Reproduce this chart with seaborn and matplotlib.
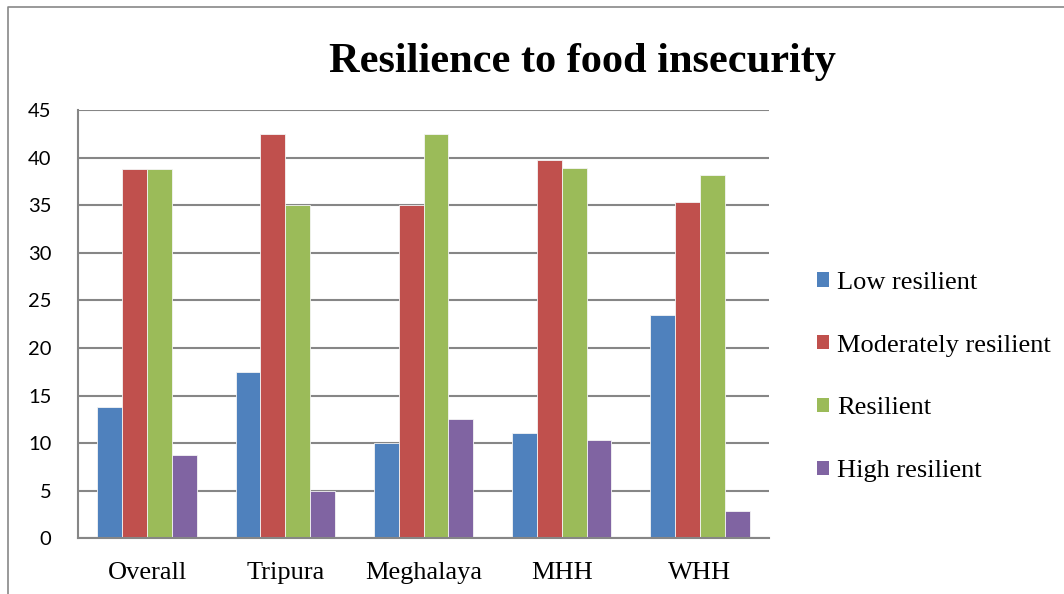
import matplotlib
matplotlib.use("Agg")
import matplotlib.pyplot as plt
from matplotlib.lines import Line2D
import seaborn as sns
import pandas as pd

# Share of households in each resilience class (%)
categories = ["Overall", "Tripura", "Meghalaya", "MHH", "WHH"]
classes = ["Low resilient", "Moderately resilient", "Resilient", "High resilient"]
low_resilient = [13.75, 17.5, 10.0, 11.1, 23.5]
moderately_resilient = [38.75, 42.5, 35.0, 39.7, 35.3]
resilient = [38.75, 35.0, 42.5, 38.9, 38.2]
high_resilient = [8.75, 5.0, 12.5, 10.3, 2.9]
y_ticks = [0, 5, 10, 15, 20, 25, 30, 35, 40, 45]

colors = ["#4F81BD", "#C0504D", "#9BBB59", "#8064A2"]

series = [low_resilient, moderately_resilient, resilient, high_resilient]
df = pd.DataFrame(
    [(cat, cls, vals[i]) for cls, vals in zip(classes, series) for i, cat in enumerate(categories)],
    columns=["group", "class", "value"],
)

sns.set_theme(style="white")
plt.rcParams["font.family"] = ["Liberation Serif", "DejaVu Serif"]
plt.rcParams["text.color"] = "black"
plt.rcParams["xtick.color"] = "black"
plt.rcParams["ytick.color"] = "black"

W, H = 1064, 594
fig = plt.figure(figsize=(W / 100, H / 100), dpi=100)
ax = fig.add_axes([78 / W, 1 - 538.3 / H, (769 - 78) / W, (538.3 - 110) / H])

sns.barplot(
    data=df, x="group", y="value", hue="class",
    order=categories, hue_order=classes, palette=colors,
    width=0.72, gap=0, saturation=1, linewidth=0.6, edgecolor="#f4f4f4",
    ax=ax, legend=False,
)

ax.set_ylim(0, 45)
ax.set_xlim(-0.5, len(categories) - 0.5)
ax.set_yticks(y_ticks)
ax.set_yticklabels([str(t) for t in y_ticks], fontfamily="Lato", fontsize=14.5)
ax.tick_params(axis="y", length=0, pad=19, colors="black")
ax.tick_params(axis="x", length=0, pad=17, labelsize=19, colors="black")
ax.set_xlabel("")
ax.set_ylabel("")
ax.yaxis.grid(True, color="#868686", linewidth=1.5)
ax.set_axisbelow(True)
for side in ["top", "right"]:
    ax.spines[side].set_visible(False)
for side in ["left", "bottom"]:
    ax.spines[side].set_color("#868686")
    ax.spines[side].set_linewidth(1.5)

fig.text(582 / W, 1 - 72 / H, "Resilience to food insecurity",
         ha="center", va="baseline", fontsize=30.5, fontweight="bold", color="black")

handles = [plt.Rectangle((0, 0), 1, 1, facecolor=c, edgecolor="none") for c in colors]
fig.legend(handles, classes, loc="center left", bbox_to_anchor=(817 / W, 1 - 377 / H),
           frameon=False, fontsize=19, handlelength=0.47, handleheight=0.47,
           handletextpad=0.28, labelspacing=1.55, borderpad=0, borderaxespad=0,
           labelcolor="black")

# Chart frame (top and left edges)
fig.add_artist(Line2D([8 / W, 8 / W, 1], [0, 1 - 7 / H, 1 - 7 / H],
                      transform=fig.transFigure, color="#888888", linewidth=1.2))

fig.savefig("out.png", dpi=100, facecolor="white")
